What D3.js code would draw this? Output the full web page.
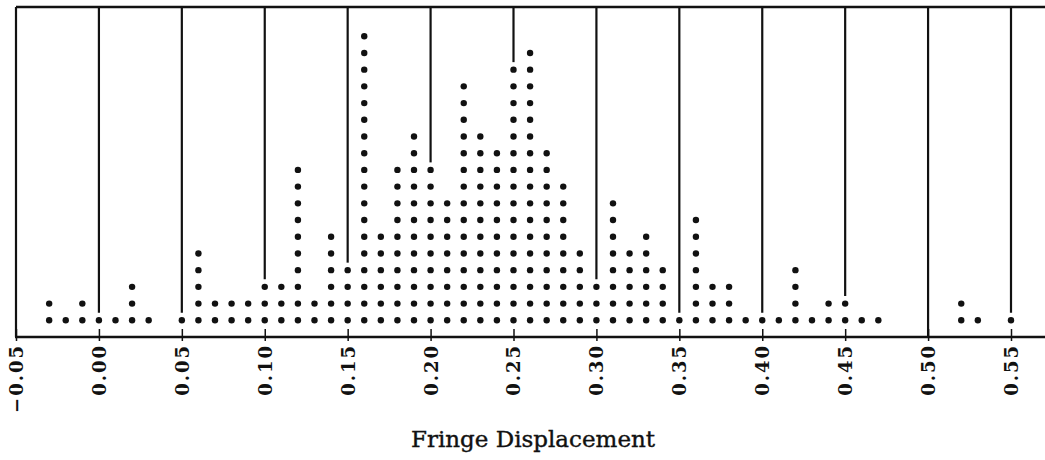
<!DOCTYPE html>
<html lang="en">
<head>
    <meta charset="UTF-8">
    <title>Fringe Displacement</title>
    <script src="https://d3js.org/d3.v7.min.js"></script>
</head>
<style>
    body {
        margin: 0;
        background-color: white;
    }
</style>
<body>
<svg id="main" width="1045" height="460"></svg>
<script>
    // each displacement value (step 0.01) and how many dots sit in its column
    const displacement = [-0.03, -0.02, -0.01, 0.00, 0.01, 0.02, 0.03, 0.04, 0.05, 0.06,
        0.07, 0.08, 0.09, 0.10, 0.11, 0.12, 0.13, 0.14, 0.15, 0.16,
        0.17, 0.18, 0.19, 0.20, 0.21, 0.22, 0.23, 0.24, 0.25, 0.26,
        0.27, 0.28, 0.29, 0.30, 0.31, 0.32, 0.33, 0.34, 0.35, 0.36,
        0.37, 0.38, 0.39, 0.40, 0.41, 0.42, 0.43, 0.44, 0.45, 0.46,
        0.47, 0.48, 0.49, 0.50, 0.51, 0.52, 0.53, 0.54, 0.55];
    const counts = [2, 1, 2, 1, 1, 3, 1, 0, 1, 5,
        2, 2, 2, 3, 3, 10, 2, 6, 4, 18,
        6, 10, 12, 10, 8, 15, 12, 11, 16, 17,
        11, 9, 5, 3, 8, 5, 6, 4, 1, 7,
        3, 3, 1, 1, 1, 4, 1, 2, 2, 1,
        1, 0, 0, 0, 0, 2, 1, 0, 1];

    const tickValues = [-0.05, 0.00, 0.05, 0.10, 0.15, 0.20, 0.25, 0.30, 0.35, 0.40, 0.45, 0.50, 0.55];
    const tickLabels = ['\u22120.05', '0.00', '0.05', '0.10', '0.15', '0.20', '0.25',
        '0.30', '0.35', '0.40', '0.45', '0.50', '0.55'];
    const xTitle = 'Fringe Displacement';

    let svg = d3.select('svg#main');
    let plotLeft = 16, plotRight = 1045, plotTop = 7, plotBottom = 337;

    let xScale = d3.scaleLinear()
        .domain([-0.05, 0.55])
        .range([plotLeft, 1011]);

    let yScale = d3.scaleLinear()
        .domain([0, 19.75])
        .range([plotBottom, plotTop]);

    let countAt = function (v) {
        let i = displacement.findIndex(d => Math.abs(d - v) < 1e-9);
        return i < 0 ? 0 : counts[i];
    };

    // grid lines every 0.05, stopping just above the top dot of that column
    svg.selectAll('.grid')
        .data(tickValues)
        .enter()
        .append('line')
        .attr('class', 'grid')
        .attr('x1', d => xScale(d))
        .attr('x2', d => xScale(d))
        .attr('y1', plotTop)
        .attr('y2', function (d) {
            let c = countAt(d);
            return c > 0 ? yScale(c + 0.45) : plotBottom;
        })
        .attr('stroke', '#111')
        .attr('stroke-width', 2.2);

    // frame: top and bottom
    svg.append('line')
        .attr('x1', plotLeft).attr('x2', plotRight)
        .attr('y1', plotTop).attr('y2', plotTop)
        .attr('stroke', '#111').attr('stroke-width', 2.5);
    svg.append('line')
        .attr('x1', plotLeft - 1).attr('x2', plotRight)
        .attr('y1', plotBottom).attr('y2', plotBottom)
        .attr('stroke', '#111').attr('stroke-width', 2.5);

    // dots
    let dots = [];
    displacement.forEach(function (v, i) {
        for (let k = 1; k <= counts[i]; k++) {
            dots.push({v: v, k: k});
        }
    });

    svg.selectAll('circle')
        .data(dots)
        .enter()
        .append('circle')
        .attr('cx', d => xScale(d.v))
        .attr('cy', d => yScale(d.k))
        .attr('r', 3.2)
        .attr('fill', '#111');

    // axis ticks + rotated labels
    let xAxis = d3.axisBottom(xScale)
        .tickValues(tickValues)
        .tickSize(4)
        .tickFormat((d, i) => tickLabels[i]);

    let axisG = svg.append('g')
        .attr('transform', 'translate(0,' + plotBottom + ')')
        .call(xAxis);

    axisG.select('.domain').remove();
    axisG.selectAll('.tick line')
        .attr('y1', -8)
        .attr('stroke', '#111')
        .attr('stroke-width', 1.5);
    axisG.selectAll('.tick text')
        .attr('transform', 'rotate(-90)')
        .attr('x', -7)
        .attr('y', 0)
        .attr('dy', '0.36em')
        .attr('text-anchor', 'end')
        .style('font-family', '"DejaVu Serif", serif')
        .style('font-size', '18px')
        .style('font-weight', 'bold')
        .style('letter-spacing', '2px')
        .style('fill', '#111');

    svg.append('text')
        .attr('x', 533)
        .attr('y', 447)
        .attr('text-anchor', 'middle')
        .style('font-family', '"DejaVu Serif", serif')
        .style('font-size', '23px')
        .style('fill', '#111')
        .style('stroke', '#111')
        .style('stroke-width', 0.4)
        .text(xTitle);
</script>
</body>
</html>
